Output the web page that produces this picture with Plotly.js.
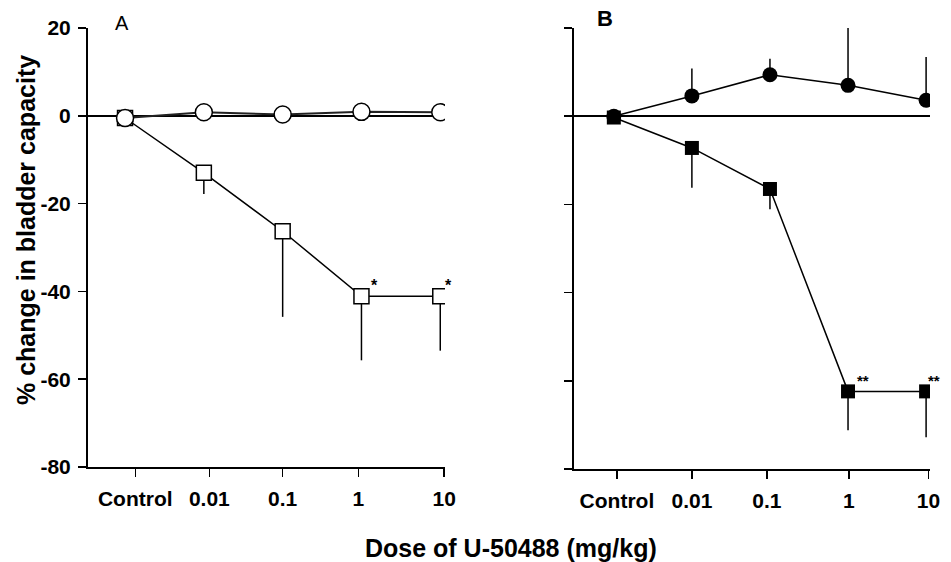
<!DOCTYPE html>
<html>
<head>
<meta charset="utf-8">
<script src="https://cdn.plot.ly/plotly-3.0.1.min.js"></script>
<style>html,body{margin:0;padding:0;background:#fff;}#chart{width:951px;height:562px;}</style>
</head>
<body>
<div id="chart"></div>
<script>
// Dose categories (plotted at evenly spaced positions)
const doseLabels = ['Control', '0.01', '0.1', '1', '10'];
const dosePos = [0, 1, 2, 3, 4];

// Panel A
const aCircleY = [-0.5, 0.8, 0.3, 0.9, 0.8];
const aSquareY = [-0.5, -13.0, -26.3, -41.1, -41.1];
const aSquareErrMinus = [0, 4.8, 19.5, 14.6, 12.4];
const aStars = ['', '', '', '*', '*'];

// Panel B
const bCircleY = [0, 4.6, 9.4, 7.0, 3.6];
const bCircleErrPlus = [0, 6.2, 3.6, 13.2, 9.8];
const bSquareY = [-0.3, -7.2, -16.5, -62.4, -62.4];
const bSquareErrMinus = [0, 9.0, 4.6, 8.8, 10.4];
const bStars = ['', '', '', '**', '**'];

const yTicks = [20, 0, -20, -40, -60, -80];

const FONT = 'Liberation Sans, Arial, sans-serif';

const traces = [
  { // A squares
    x: dosePos, y: aSquareY, xaxis: 'x', yaxis: 'y', type: 'scatter', mode: 'lines+markers',
    line: {color: '#000', width: 1.5},
    marker: {symbol: 'square', size: 15, color: '#fff', line: {color: '#000', width: 1.5}},
    error_y: {type: 'data', symmetric: false, array: [0,0,0,0,0], arrayminus: aSquareErrMinus, width: 0, color: '#000', thickness: 1.5},
    hoverinfo: 'skip', showlegend: false
  },
  { // A circles
    x: dosePos, y: aCircleY, xaxis: 'x', yaxis: 'y', type: 'scatter', mode: 'lines+markers',
    line: {color: '#222', width: 2},
    marker: {symbol: 'circle', size: 17, color: '#fff', line: {color: '#000', width: 1.5}},
    hoverinfo: 'skip', showlegend: false
  },
  { // B circles
    x: dosePos, y: bCircleY, xaxis: 'x2', yaxis: 'y2', type: 'scatter', mode: 'lines+markers',
    line: {color: '#000', width: 1.5},
    marker: {symbol: 'circle', size: 15, color: '#000'},
    error_y: {type: 'data', symmetric: false, array: bCircleErrPlus, arrayminus: [0,0,0,0,0], width: 0, color: '#000', thickness: 1.5},
    hoverinfo: 'skip', showlegend: false
  },
  { // B squares
    x: dosePos, y: bSquareY, xaxis: 'x2', yaxis: 'y2', type: 'scatter', mode: 'lines+markers',
    line: {color: '#000', width: 1.5},
    marker: {symbol: 'square', size: 14, color: '#000'},
    error_y: {type: 'data', symmetric: false, array: [0,0,0,0,0], arrayminus: bSquareErrMinus, width: 0, color: '#000', thickness: 1.5},
    hoverinfo: 'skip', showlegend: false
  }
];

const annotations = [];
dosePos.forEach((p, i) => {
  if (aStars[i]) annotations.push({x: p, y: aSquareY[i], xref: 'x', yref: 'y', text: '<b>' + aStars[i] + '</b>',
    showarrow: false, xanchor: 'left', yanchor: 'middle', xshift: i === 3 ? 8 : 3, yshift: 11,
    font: {family: FONT, size: 16, color: '#000'}});
  if (bStars[i]) annotations.push({x: p, y: bSquareY[i], xref: 'x2', yref: 'y2', text: '<b>' + bStars[i] + '</b>',
    showarrow: false, xanchor: 'left', yanchor: 'middle', xshift: i === 3 ? 7 : 0, yshift: 11,
    font: {family: FONT, size: 15, color: '#000'}});
});
annotations.push(
  {text: 'A', xref: 'paper', yref: 'paper', x: 122/951, y: 1 - 23/562, xanchor: 'center', yanchor: 'middle',
   showarrow: false, font: {family: FONT, size: 20, color: '#000'}},
  {text: '<b>B</b>', xref: 'paper', yref: 'paper', x: 605/951, y: 1 - 18/562, xanchor: 'center', yanchor: 'middle',
   showarrow: false, font: {family: FONT, size: 22, color: '#000'}},
  {text: '<b>% change in bladder capacity</b>', xref: 'paper', yref: 'paper', x: 26/951, y: 1 - 230/562,
   xanchor: 'center', yanchor: 'middle', textangle: -90, showarrow: false,
   font: {family: FONT, size: 25, color: '#000'}},
  {text: '<b>Dose of U-50488 (mg/kg)</b>', xref: 'paper', yref: 'paper', x: 511/951, y: 1 - 548/562,
   xanchor: 'center', yanchor: 'middle', showarrow: false, font: {family: FONT, size: 25, color: '#000'}}
);

const xBase = {
  showgrid: false, zeroline: false, showline: true, linecolor: '#000', linewidth: 2,
  ticks: 'outside', ticklen: 8, tickwidth: 1.5, tickcolor: '#000',
  ticktext: doseLabels, tickmode: 'array',
  tickfont: {family: FONT, size: 21, color: '#000', weight: 'bold'},
  ticklabelstandoff: 4, fixedrange: true
};
const yBase = {
  range: [-80, 20], showgrid: false, zeroline: true, zerolinecolor: '#000', zerolinewidth: 1.5,
  showline: true, linecolor: '#000', linewidth: 2,
  ticks: 'outside', ticklen: 8, tickwidth: 1.5, tickcolor: '#000',
  tickmode: 'array', tickvals: yTicks, ticktext: yTicks.map(String),
  tickfont: {family: FONT, size: 21, color: '#000', weight: 'bold'},
  ticklabelstandoff: 3, fixedrange: true
};

const layout = {
  width: 951, height: 562,
  margin: {l: 0, r: 0, t: 0, b: 0},
  paper_bgcolor: '#fff', plot_bgcolor: '#fff',
  showlegend: false,
  xaxis: Object.assign({}, xBase, {domain: [88/951, 445/951], range: [-0.47, 4.06], anchor: 'y',
    tickvals: [0.13, 1.07, 2.0, 2.96, 4.05]}),
  yaxis: Object.assign({}, yBase, {domain: [1 - 467/562, 1 - 28/562], anchor: 'x'}),
  xaxis2: Object.assign({}, xBase, {domain: [574/951, 930/951], range: [-0.51, 4.05], anchor: 'y2',
    tickvals: [0.04, 1.0, 1.96, 3.01, 4.03]}),
  yaxis2: Object.assign({}, yBase, {domain: [1 - 469/562, 1 - 28/562], anchor: 'x2', showticklabels: false}),
  annotations: annotations
};

Plotly.newPlot('chart', traces, layout, {displayModeBar: false, staticPlot: true});
</script>
</body>
</html>
